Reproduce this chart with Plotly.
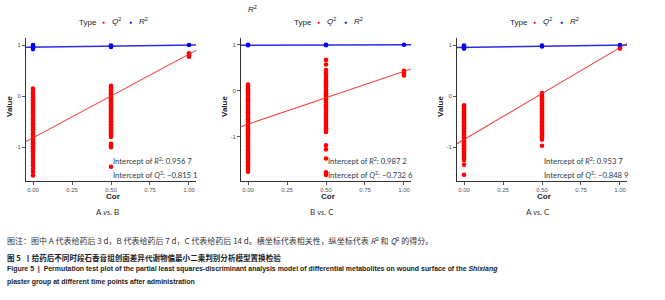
import plotly.graph_objects as go

W, H = 665, 300

# ---------------- data ----------------
panels = ["A vs. B", "B vs. C", "A vs. C"]
x_ticks = [0.0, 0.25, 0.5, 0.75, 1.0]
x_ticktext = ["0.00", "0.25", "0.50", "0.75", "1.00"]
y_ticks = [-1, 0, 1]
y_ticktext = ["-1", "0", "1"]

# Panel 1: A vs. B
p1_q2_c0 = [0.15, 0.12, 0.08, 0.05, 0.02, -0.02, -0.05, -0.08, -0.12, -0.15, -0.18, -0.22, -0.25,
            -0.28, -0.32, -0.35, -0.38, -0.42, -0.45, -0.48, -0.52, -0.55, -0.58, -0.62, -0.65, -0.68,
            -0.72, -0.75, -0.78, -0.82, -0.85, -0.88, -0.92, -0.95, -0.98, -1.02, -1.05, -1.08, -1.12,
            -1.16, -1.2, -1.25, -1.3, -1.35, -1.42, -1.48, -1.55]
p1_q2_c5 = [0.2, 0.17, 0.14, 0.11, 0.08, 0.05, 0.02, -0.01, -0.04, -0.07, -0.1, -0.13, -0.16, -0.19,
            -0.22, -0.25, -0.28, -0.31, -0.34, -0.37, -0.4, -0.43, -0.46, -0.49, -0.52, -0.55, -0.58,
            -0.61, -0.64, -0.67, -0.7, -0.73, -0.76, -0.8, -0.93, -0.96, -1.0, -1.38]
p1_q2_c10 = [0.84, 0.8, 0.77]
p1_r2_c0 = [1.0, 0.98, 0.96, 0.94, 0.92]
p1_r2_c5 = [0.99, 0.97, 0.96]
p1_r2_c10 = [1.0]
p1_r2_intercept, p1_r2_end = 0.9567, 1.0
p1_q2_intercept, p1_q2_end = -0.8151, 0.82

# Panel 2: B vs. C
p2_q2_c0 = [0.13, 0.09, 0.05, 0.01, -0.03, -0.07, -0.11, -0.15, -0.19, -0.23, -0.27, -0.31, -0.35,
            -0.39, -0.43, -0.47, -0.51, -0.55, -0.59, -0.63, -0.67, -0.71, -0.75, -0.79, -0.83, -0.87,
            -0.91, -0.95, -0.99, -1.03, -1.07, -1.11, -1.15, -1.19, -1.23, -1.27, -1.31, -1.35, -1.39,
            -1.43, -1.47, -1.51, -1.55, -1.6, -1.65, -1.71, -1.77]
p2_q2_c5 = [0.67, 0.57, 0.45, 0.4, 0.35, 0.3, 0.26, 0.22, 0.18, 0.14, 0.1, 0.06, 0.02, -0.02, -0.06,
            -0.1, -0.14, -0.18, -0.22, -0.26, -0.3, -0.34, -0.38, -0.42, -0.46, -0.5, -0.54, -0.58,
            -0.62, -0.66, -0.7, -0.74, -0.78, -0.82, -0.86, -0.9, -1.19, -1.28, -1.48, -1.78, -1.84]
p2_q2_c10 = [0.43, 0.38, 0.33]
p2_r2_c0 = [1.0, 0.99]
p2_r2_c5 = [1.0, 0.99]
p2_r2_c10 = [1.0]
p2_r2_intercept, p2_r2_end = 0.9872, 1.0
p2_q2_intercept, p2_q2_end = -0.7326, 0.42

# Panel 3: A vs. C
p3_q2_c0 = [-0.18, -0.21, -0.24, -0.27, -0.3, -0.33, -0.36, -0.39, -0.42, -0.45, -0.48, -0.51, -0.54,
            -0.57, -0.6, -0.63, -0.66, -0.69, -0.72, -0.75, -0.78, -0.81, -0.84, -0.87, -0.9, -0.93,
            -0.96, -0.99, -1.02, -1.05, -1.08, -1.11, -1.14, -1.17, -1.2, -1.25, -1.34, -1.54]
p3_q2_c5 = [0.06, 0.03, 0.0, -0.03, -0.06, -0.09, -0.12, -0.15, -0.18, -0.21, -0.24, -0.27, -0.3,
            -0.33, -0.36, -0.39, -0.42, -0.45, -0.48, -0.51, -0.54, -0.57, -0.6, -0.63, -0.66, -0.69,
            -0.72, -0.75, -0.78, -0.81, -0.85, -0.97]
p3_q2_c10 = [0.97, 0.93]
p3_r2_c0 = [0.99, 0.97, 0.95, 0.93]
p3_r2_c5 = [0.99, 0.97]
p3_r2_c10 = [1.0]
p3_r2_intercept, p3_r2_end = 0.9537, 1.0
p3_q2_intercept, p3_q2_end = -0.8489, 0.95

intercept_r2_text = ["0.956 7", "0.987 2", "0.953 7"]
intercept_q2_text = ["\u22120.815 1", "\u22120.732 6", "\u22120.848 9"]

caption_lines = [
    "图注：图中 A 代表给药后 3 d，B 代表给药后 7 d，C 代表给药后 14 d。横坐标代表相关性，纵坐标代表 <i>R</i><sup>2</sup> 和 <i>Q</i><sup>2</sup> 的得分。",
    "<b>图 5  丨给药后不同时段石香膏组创面差异代谢物偏最小二乘判别分析模型置换检验</b>",
    "<b>Figure 5 &nbsp;| &nbsp;Permutation test plot of the partial least squares-discriminant analysis model of differential metabolites on wound surface of the <i>Shixiang</i></b>",
    "<b>plaster group at different time points after administration</b>",
]

# ---------------- layout helpers ----------------
def px(x):
    return x / W

def py(y):
    return 1 - y / H

axis_left = [26, 241, 457]
axis_right = [196, 411, 627]
top_y, bot_y = 38, 181
y_ranges = [[-1.66, 1.137], [-1.97, 1.147], [-1.66, 1.137]]
x_range = [-0.045, 1.045]

data = [
    (p1_q2_c0, p1_q2_c5, p1_q2_c10, p1_r2_c0, p1_r2_c5, p1_r2_c10,
     p1_r2_intercept, p1_r2_end, p1_q2_intercept, p1_q2_end),
    (p2_q2_c0, p2_q2_c5, p2_q2_c10, p2_r2_c0, p2_r2_c5, p2_r2_c10,
     p2_r2_intercept, p2_r2_end, p2_q2_intercept, p2_q2_end),
    (p3_q2_c0, p3_q2_c5, p3_q2_c10, p3_r2_c0, p3_r2_c5, p3_r2_c10,
     p3_r2_intercept, p3_r2_end, p3_q2_intercept, p3_q2_end),
]

RED = "#ff0000"
BLUE = "#0000ff"
fig = go.Figure()
layout = {}
ann = []
AX_FONT = "Liberation Sans, Arial, sans-serif"


def note(x, y, text, font, xanchor="center", **kw):
    ann.append(dict(x=px(x), y=py(y), text=text, showarrow=False, xref="paper", yref="paper",
                    xanchor=xanchor, yanchor="middle", font=font, **kw))


for i, (q0, q5, q10, r0, r5, r10, ri, re, qi, qe) in enumerate(data):
    n = "" if i == 0 else str(i + 1)
    xa, ya = "x" + n, "y" + n
    xs = [x_range[0], x_range[1]]
    fig.add_trace(go.Scatter(x=xs, y=[ri + (re - ri) * v for v in xs], mode="lines",
                             line=dict(color="rgba(20,20,230,0.9)", width=1.5),
                             xaxis=xa, yaxis=ya, showlegend=False, hoverinfo="skip"))
    qx = [0.0] * len(q0) + [0.5] * len(q5) + [1.0] * len(q10)
    fig.add_trace(go.Scatter(x=qx, y=q0 + q5 + q10, mode="markers", name="Q2",
                             marker=dict(color=RED, size=4.6),
                             xaxis=xa, yaxis=ya, showlegend=False))
    rx = [0.0] * len(r0) + [0.5] * len(r5) + [1.0] * len(r10)
    fig.add_trace(go.Scatter(x=rx, y=r0 + r5 + r10, mode="markers", name="R2",
                             marker=dict(color=BLUE, size=4.6),
                             xaxis=xa, yaxis=ya, showlegend=False))
    fig.add_trace(go.Scatter(x=xs, y=[qi + (qe - qi) * v for v in xs], mode="lines",
                             line=dict(color="rgba(235,40,40,0.85)", width=1.1),
                             xaxis=xa, yaxis=ya, showlegend=False, hoverinfo="skip"))

    common = dict(showline=True, linecolor="#333333", linewidth=1.1, ticks="outside",
                  ticklen=3, tickwidth=1, tickcolor="#555555", showgrid=False, zeroline=False,
                  tickfont=dict(size=6, color="#555555", family=AX_FONT))
    layout["xaxis" + n] = dict(domain=[px(axis_left[i]), px(axis_right[i])], range=x_range,
                               anchor=ya, tickvals=x_ticks, ticktext=x_ticktext, **common)
    layout["yaxis" + n] = dict(domain=[py(bot_y), py(top_y)], range=y_ranges[i],
                               anchor=xa, tickvals=y_ticks, ticktext=y_ticktext, **common)

    L = axis_left[i]
    cx = (axis_left[i] + axis_right[i]) / 2
    note(L - 17, 107, "<b>Value</b>", dict(size=8, color="#222", family=AX_FONT), textangle=-90)
    note(cx + 2, 196, "<b>Cor</b>", dict(size=8, color="#222", family=AX_FONT))
    lab = panels[i].replace("vs.", "<i>vs.</i>")
    note(cx - 4, 212, lab, dict(size=8, color="#333", family="Lato, sans-serif"))
    ifont = dict(size=7.7, color="#2f3a48", family="Lato, sans-serif")
    note(L + 85, 161, "Intercept of <i>R</i><sup>2</sup>: " + intercept_r2_text[i], ifont, xanchor="left")
    note(L + 85, 175, "Intercept of <i>Q</i><sup>2</sup>: " + intercept_q2_text[i], ifont, xanchor="left")
    lf = dict(size=8, color="#222", family=AX_FONT)
    note(L + 51, 22, "Type", lf, xanchor="left")
    note(L + 77, 22, "●", dict(size=5, color=RED))
    note(L + 84, 21, "<i>Q</i><sup>2</sup>", lf, xanchor="left")
    note(L + 104, 22, "●", dict(size=5, color=BLUE))
    note(L + 111, 21, "<i>R</i><sup>2</sup>", lf, xanchor="left")

note(252, 9, "<i>R</i><sup>2</sup>", dict(size=8, color="#222", family=AX_FONT))

cap_y = [240, 257, 269, 282]
cap_fonts = [
    dict(size=8.0, color="#333", family="Noto Sans CJK SC, sans-serif"),
    dict(size=7.55, color="#222", family="Noto Sans CJK SC, sans-serif"),
    dict(size=6.95, color="#222", family="Liberation Sans, Arial, sans-serif"),
    dict(size=6.95, color="#222", family="Liberation Sans, Arial, sans-serif"),
]
for t, yy, f in zip(caption_lines, cap_y, cap_fonts):
    note(5, yy, t, f, xanchor="left")

fig.update_layout(width=W, height=H, margin=dict(l=0, r=0, t=0, b=0),
                  paper_bgcolor="white", plot_bgcolor="white", showlegend=False,
                  annotations=ann, **layout)
fig.write_html("out.html", config={"displayModeBar": False},
               post_script="document.body.style.margin='0';document.body.style.overflow='hidden';")
